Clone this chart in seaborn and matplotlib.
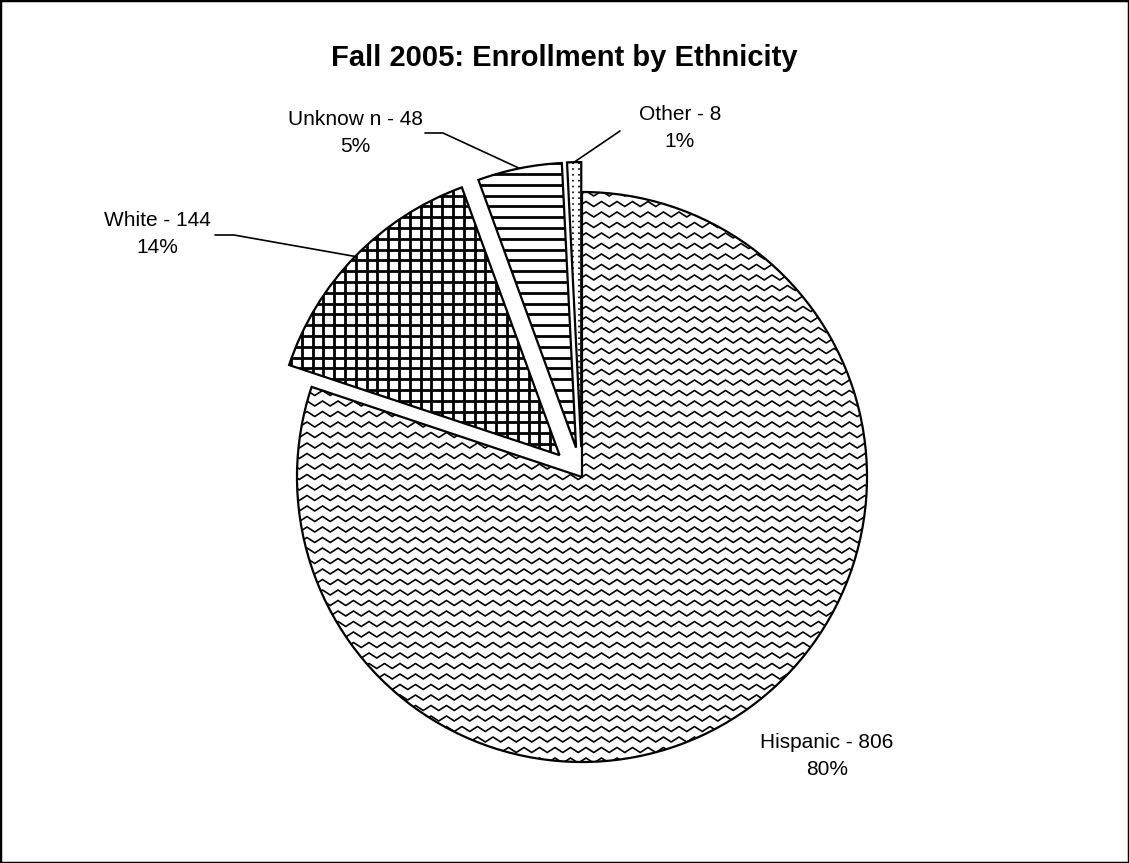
import numpy as np
import matplotlib
matplotlib.use("Agg")
import matplotlib.pyplot as plt
import seaborn as sns
from matplotlib.collections import LineCollection
from matplotlib.patches import Rectangle

# Enrollment data, fall 2005
groups = ["Hispanic", "White", "Unknow n", "Other"]
counts = [806, 144, 48, 8]
explode = [0.0, 0.11, 0.105, 0.105]

sns.set_theme(style="white")
plt.rcParams["font.family"] = ["Liberation Sans", "DejaVu Sans"]
plt.rcParams["text.color"] = "black"

W, H = 1129, 863
R = 285.0            # pie radius in pixels
CX, CY = 582, 477    # pie centre in pixels


def px(x, y):
    """pixel position (from top-left) -> data coords"""
    return (x - CX) / R, (CY - y) / R


fig = plt.figure(figsize=(W / 100, H / 100), dpi=100)
ax = fig.add_axes([0, 0, 1, 1])

# white faces first, the outlines go on top of the hatching later
wedges, _ = ax.pie(counts, explode=explode, startangle=90, counterclock=False,
                   colors=["white"] * len(counts),
                   wedgeprops=dict(edgecolor="none", linewidth=0, zorder=1))


def add_lines(segs, wedge, lw, ls="solid"):
    lc = LineCollection(segs, colors="black", linewidths=lw, linestyles=ls, zorder=2)
    ax.add_collection(lc, autolim=False)
    lc.set_clip_path(wedge)


# Hispanic: zigzag rows
segs = []
for y0 in np.arange(-1.4, 1.4, 10.5 / R):
    xs = np.arange(-1.4, 1.4, 7.75 / R)
    ys = y0 + np.where(np.arange(len(xs)) % 2 == 0, 2.5 / R, -2.5 / R)
    segs.append(np.column_stack([xs, ys]))
add_lines(segs, wedges[0], 1.2)

# White: square grid
segs = []
for v in np.arange(-1.4, 1.4, 10.8 / R):
    segs.append([(v, -1.4), (v, 1.4)])
    segs.append([(-1.4, v), (1.4, v)])
add_lines(segs, wedges[1], 2.0)

# Unknown: horizontal stripes
segs = [[(-1.4, v), (1.4, v)] for v in np.arange(-1.4, 1.4, 10.8 / R)]
add_lines(segs, wedges[2], 2.0)

# Other: dots
segs = [[(v, -1.4), (v, 1.4)] for v in np.arange(-1.4, 1.4, 6 / R)]
add_lines(segs, wedges[3], 1.2, ls=(0, (1, 2.5)))

# outlines
ax.pie(counts, explode=explode, startangle=90, counterclock=False,
       wedgeprops=dict(facecolor="none", edgecolor="black", linewidth=1.6, zorder=3))

# labels and leader lines
total = sum(counts)
label_px = [(827, 756), (157, 234), (355, 133), (680, 128)]
leader_px = [None, [(215, 235), (234, 235)], [(425, 133), (443, 133)], [(620, 131)]]

for i, w in enumerate(wedges):
    pct = round(counts[i] / total * 100)
    x, y = label_px[i]
    fig.text(x / W, 1 - y / H, f"{groups[i]} - {counts[i]}\n{pct}%",
             ha="center", va="center", fontsize=15, linespacing=1.55, color="black")
    if leader_px[i] is not None:
        pts = [px(a, b) for a, b in leader_px[i]]
        th = np.deg2rad((w.theta1 + w.theta2) / 2)
        pts.append((w.center[0] + w.r * np.cos(th), w.center[1] + w.r * np.sin(th)))
        pts = np.array(pts)
        ax.plot(pts[:, 0], pts[:, 1], color="black", lw=1.2, zorder=4)

ax.set_xlim(-CX / R, (W - CX) / R)
ax.set_ylim(-(H - CY) / R, CY / R)
ax.set_aspect("auto")
ax.axis("off")

fig.text(0.5, 1 - 58 / H, "Fall 2005: Enrollment by Ethnicity",
         ha="center", va="center", fontsize=21, fontweight="bold", color="black")

fig.add_artist(Rectangle((0, 0), 1, 1, transform=fig.transFigure, fill=False,
                         edgecolor="black", linewidth=2.5))

fig.savefig("out.png", dpi=100)
